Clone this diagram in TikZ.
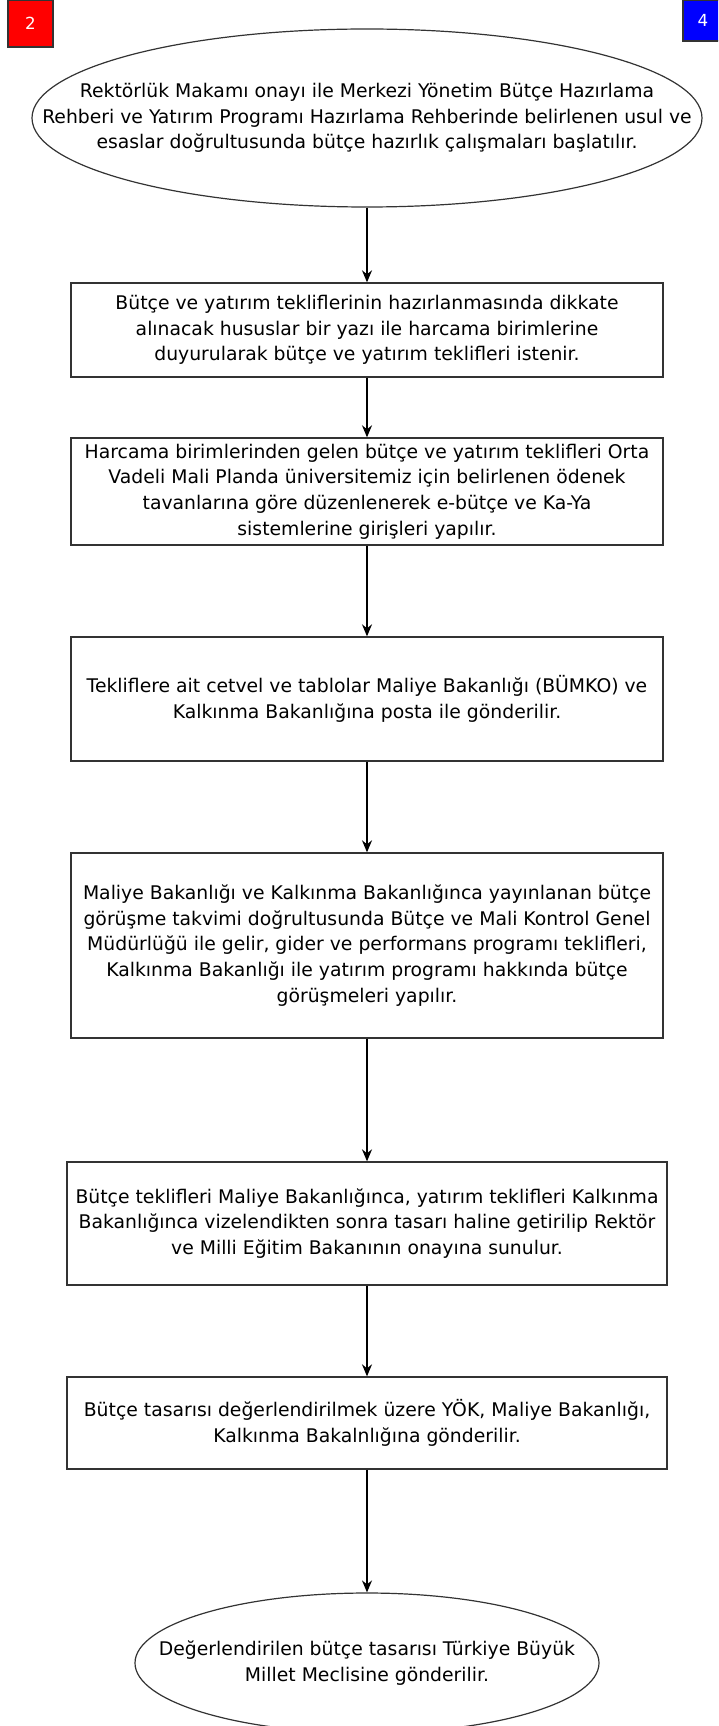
\documentclass[tikz,border=0pt]{standalone}
\usepackage{fontspec}
\setmainfont{DejaVu Sans}
\usetikzlibrary{shapes.geometric,arrows.meta}
\tikzset{
  stepbox/.style={draw=black!80, line width=1pt, rectangle, align=center, inner sep=0pt},
  endbox/.style={draw=black!80, line width=0.9pt, ellipse, inner sep=0pt},
  flow/.style={-{Stealth[length=9pt,width=7.5pt]}, line width=1pt},
  badge/.style={draw=black!80, line width=0.9pt, text=white, font=\fontsize{12.5}{14}\selectfont, inner sep=0pt}
}
\begin{document}
\begin{tikzpicture}[x=0.75pt,y=-0.75pt,font=\fontsize{14.1}{19.3}\selectfont]
  \clip (0,0) rectangle (718,1726);
  \node[badge, fill=red, minimum width=33.75pt, minimum height=35.25pt] (pg2) at (30.5,23.5) {2};
  \node[badge, fill=blue, minimum width=30pt, minimum height=30.75pt] (pg4) at (703,20.5) {4};

  \node[endbox, minimum width=502.5pt, minimum height=133.5pt] (start) at (367,118) {};
  \node[align=center] (starttext) at (start.center) {Rektörlük Makamı onayı ile Merkezi Yönetim Bütçe Hazırlama\\
    Rehberi ve Yatırım Programı Hazırlama Rehberinde belirlenen usul ve\\
    esaslar doğrultusunda bütçe hazırlık çalışmaları başlatılır.};

  \node[stepbox, minimum width=444pt, minimum height=70.5pt] (duyuru) at (367,330) {Bütçe ve yatırım tekliflerinin hazırlanmasında dikkate\\
    alınacak hususlar bir yazı ile harcama birimlerine\\
    duyurularak bütçe ve yatırım teklifleri istenir.};
  \node[stepbox, minimum width=444pt, minimum height=80.25pt] (giris) at (367,491.5) {Harcama birimlerinden gelen bütçe ve yatırım teklifleri Orta\\
    Vadeli Mali Planda üniversitemiz için belirlenen ödenek\\
    tavanlarına göre düzenlenerek e-bütçe ve Ka-Ya\\
    sistemlerine girişleri yapılır.};
  \node[stepbox, minimum width=444pt, minimum height=93pt] (posta) at (367,699) {Tekliflere ait cetvel ve tablolar Maliye Bakanlığı (BÜMKO) ve\\
    Kalkınma Bakanlığına posta ile gönderilir.};
  \node[stepbox, minimum width=444pt, minimum height=138.75pt] (gorusme) at (367,945.5) {Maliye Bakanlığı ve Kalkınma Bakanlığınca yayınlanan bütçe\\
    görüşme takvimi doğrultusunda Bütçe ve Mali Kontrol Genel\\
    Müdürlüğü ile gelir, gider ve performans programı teklifleri,\\
    Kalkınma Bakanlığı ile yatırım programı hakkında bütçe\\
    görüşmeleri yapılır.};
  \node[stepbox, minimum width=450pt, minimum height=92.25pt] (tasari) at (367,1223.5) {Bütçe teklifleri Maliye Bakanlığınca, yatırım teklifleri Kalkınma\\
    Bakanlığınca vizelendikten sonra tasarı haline getirilip Rektör\\
    ve Milli Eğitim Bakanının onayına sunulur.};
  \node[stepbox, minimum width=450pt, minimum height=69pt] (yok) at (367,1423) {Bütçe tasarısı değerlendirilmek üzere YÖK, Maliye Bakanlığı,\\
    Kalkınma Bakalnlığına gönderilir.};

  \node[endbox, minimum width=348pt, minimum height=105pt] (tbmm) at (367,1663) {};
  \node[align=center] (tbmmtext) at (tbmm.center) {Değerlendirilen bütçe tasarısı Türkiye Büyük\\
    Millet Meclisine gönderilir.};

  \draw[flow] (start) -- (duyuru);
  \draw[flow] (duyuru) -- (giris);
  \draw[flow] (giris) -- (posta);
  \draw[flow] (posta) -- (gorusme);
  \draw[flow] (gorusme) -- (tasari);
  \draw[flow] (tasari) -- (yok);
  \draw[flow] (yok) -- (tbmm);
\end{tikzpicture}
\end{document}
